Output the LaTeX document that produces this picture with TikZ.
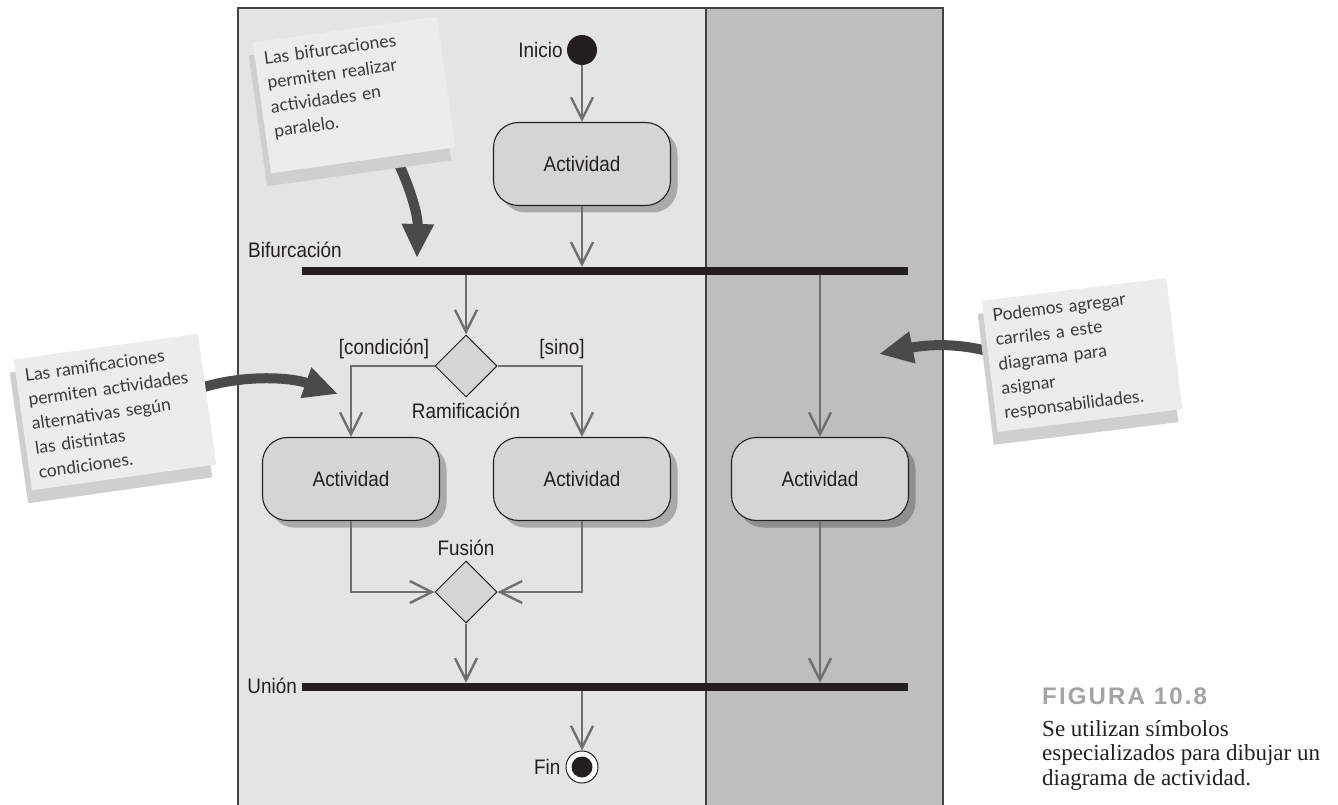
\documentclass[tikz,border=0pt]{standalone}
\usepackage{fontspec}
\setmainfont{Liberation Serif}
\newfontfamily\lblfont[FakeStretch=0.9]{Liberation Sans}
\newfontfamily\notefont{Lato}
\newfontfamily\figfont[LetterSpace=9]{Liberation Sans}
\usetikzlibrary{positioning,arrows.meta,calc,shapes.geometric,shadows}

\definecolor{laneA}{HTML}{E4E4E4}
\definecolor{laneB}{HTML}{BEBEBE}
\definecolor{ink}{HTML}{231F20}
\definecolor{flowgray}{HTML}{6F6F6F}
\definecolor{actfill}{HTML}{D5D5D5}
\definecolor{notefill}{HTML}{ECECEC}
\definecolor{noteshade}{HTML}{CFCFCF}
\definecolor{notetext}{HTML}{3A3A3A}
\definecolor{fatgray}{HTML}{4A4A4A}
\definecolor{figgray}{HTML}{A3A3A3}

\tikzset{
  lbl/.style={font=\lblfont\fontsize{21}{25}\selectfont, text=ink, inner sep=0pt},
  act/.style={rectangle, rounded corners=25pt, draw=ink, line width=1.1pt, fill=actfill,
    minimum width=177pt, minimum height=83pt, font=\lblfont\fontsize{21}{25}\selectfont, text=ink,
    drop shadow={shadow xshift=7pt, shadow yshift=-7pt, fill=black, opacity=.25}},
  decide/.style={diamond, draw=ink, line width=1pt, fill=actfill, minimum width=62pt,
    minimum height=62pt, inner sep=0pt},
  bar/.style={rectangle, fill=ink, minimum height=8pt, inner sep=0pt},
  flow/.style={draw=flowgray, line width=2.4pt, -{Straight Barb[length=22pt,width=22pt]}},
  fat/.style={draw=fatgray, line width=10pt, -{Triangle[length=34pt,width=30pt]}},
  note/.style={rectangle, fill=notefill, text width=168pt, minimum height=132pt, inner xsep=9pt,
    align=left, font=\notefont\fontsize{17.5}{24.5}\selectfont, text=notetext,
    drop shadow={shadow xshift=-4pt, shadow yshift=-13pt, fill=noteshade, opacity=1}},
}

\begin{document}
\begin{tikzpicture}[x=1pt,y=-1pt]
  \useasboundingbox (0,0) rectangle (1338,805);

  % carriles
  \fill[laneA] (238,8) rectangle (706,805);
  \fill[laneB] (706,8) rectangle (943,805);
  \draw[ink!85,line width=1.2pt] (238,805) -- (238,8) -- (943,8) -- (943,805);
  \draw[ink!85,line width=1.2pt] (706,8) -- (706,805);

  % nodos del diagrama
  \node[circle, fill=ink, minimum size=30pt, inner sep=0pt] (start) at (582,50) {};
  \node[lbl, left=4pt of start] (startLbl) {Inicio};
  \node[act] (act1) at (582,164) {Actividad};
  \node[bar, minimum width=606pt] (fork) at (605,271) {};
  \node[lbl, anchor=west] (forkLbl) at (248,250) {Bifurcación};
  \node[decide] (branch) at (466,366) {};
  \node[lbl] (condLbl) at (384,349) {[condición]};
  \node[lbl] (elseLbl) at (562,349) {[sino]};
  \node[lbl] (branchLbl) at (466,411) {Ramificación};
  \node[act] (actL) at (351,479) {Actividad};
  \node[act] (actR) at (582,479) {Actividad};
  \node[act] (actS) at (820,479) {Actividad};
  \node[decide] (merge) at (466,592) {};
  \node[lbl] (mergeLbl) at (466,548) {Fusión};
  \node[bar, minimum width=606pt] (join) at (605,687) {};
  \node[lbl, anchor=east] (joinLbl) at (297,686) {Unión};
  \node[circle, draw=ink, line width=1pt, fill=white, minimum size=32pt, inner sep=0pt] (end) at (582,767) {};
  \fill[ink] (end) circle (10.5);
  \node[lbl, left=5pt of end] (endLbl) {Fin};

  % flujos
  \draw[flow] (start) -- (act1);
  \draw[flow] (act1) -- (act1 |- fork.north);
  \draw[flow] (branch |- fork.south) -- (branch);
  \draw[flow] (actS |- fork.south) -- (actS);
  \draw[flow] (branch.west) -| (actL);
  \draw[flow] (branch.east) -| (actR);
  \draw[flow] (actL) |- (merge);
  \draw[flow] (actR) |- (merge);
  \draw[flow] (merge) -- (merge |- join.north);
  \draw[flow] (actS) -- (actS |- join.north);
  \draw[flow] (end |- join.south) -- (end);

  % notas
  \coordinate (forkTail) at (392,150);
  \coordinate (forkTip) at (417,258);
  \coordinate (branchTail) at (195,390);
  \coordinate (branchTip) at (338,394);
  \coordinate (laneTail) at (995,353);
  \coordinate (laneTip) at (879,354);
  \draw[fat] (forkTail) .. controls (410,185) and (418,215) .. (forkTip);
  \draw[fat] (branchTail) .. controls (240,374) and (290,377) .. (branchTip);
  \draw[fat] (laneTail) .. controls (960,343) and (930,344) .. (laneTip);

  \node[note, rotate=8] (forkNote) at (354,95) {Las bifurcaciones\\permiten realizar\\actividades en\\paralelo.\\ \mbox{}};
  \node[note, rotate=8] (branchNote) at (115,412) {Las ramificaciones\\permiten actividades\\alternativas según\\las distintas\\condiciones.};
  \node[note, rotate=7] (laneNote) at (1082,355) {Podemos agregar\\carriles a este\\diagrama para\\asignar\\responsabilidades.};

  % pie de figura
  \node[anchor=base west, inner sep=0pt, font=\figfont\bfseries\fontsize{24}{27}\selectfont, text=figgray] (figNum) at (1042,704) {FIGURA 10.8};
  \node[anchor=north west, inner sep=0pt, align=left, font=\fontsize{23}{24.5}\selectfont, text=ink] (figCap) at (1042,720) {Se utilizan símbolos\\especializados para dibujar un\\diagrama de actividad.};
\end{tikzpicture}
\end{document}
